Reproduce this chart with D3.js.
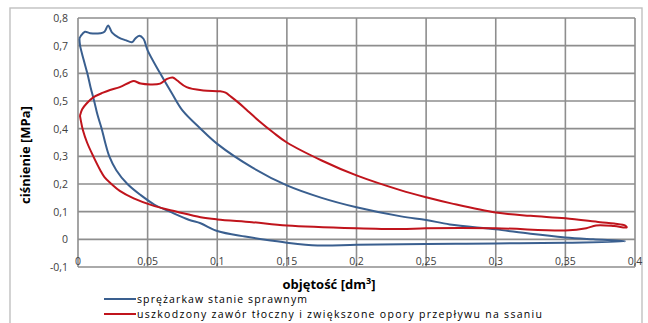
<!DOCTYPE html>
<html lang="pl">
<head>
<meta charset="UTF-8">
<title>Wykres p-V</title>
<script src="https://d3js.org/d3.v7.min.js"></script>
<style>
  body { margin: 0; background: #fff; }
  svg { display: block; font-family: "Open Sans", sans-serif; }
  .tick-label { font-size: 10.5px; fill: #404040; }
  .axis-title { font-size: 13px; font-weight: bold; fill: #000; }
  .legend-text { font-size: 10.5px; fill: #000; }
</style>
</head>
<body>
<svg width="648" height="323"></svg>
<script>
// volume [dm3] and pressure [MPa]
const healthyV = [0.001, 0.0015, 0.004, 0.0067, 0.009, 0.0116, 0.014, 0.017, 0.0195, 0.0225, 0.0275, 0.0355, 0.045, 0.055, 0.066, 0.080, 0.088, 0.100, 0.120, 0.140, 0.150, 0.172, 0.200, 0.250, 0.300, 0.350, 0.393,
  0.370, 0.350, 0.325, 0.300, 0.267, 0.250, 0.232, 0.200, 0.175, 0.150, 0.125, 0.100, 0.088, 0.075, 0.0675, 0.059, 0.050, 0.047, 0.044, 0.041, 0.039, 0.034, 0.029, 0.0245, 0.0216, 0.019, 0.016, 0.0087, 0.005, 0.002, 0.001];
const healthyP = [0.726, 0.700, 0.650, 0.600, 0.550, 0.500, 0.450, 0.400, 0.350, 0.300, 0.250, 0.200, 0.160, 0.125, 0.100, 0.070, 0.058, 0.030, 0.010, -0.005, -0.012, -0.022, -0.020, -0.017, -0.015, -0.012, -0.007,
  0.000, 0.007, 0.020, 0.036, 0.054, 0.070, 0.083, 0.116, 0.150, 0.195, 0.260, 0.345, 0.400, 0.466, 0.527, 0.600, 0.683, 0.725, 0.736, 0.725, 0.713, 0.720, 0.730, 0.747, 0.773, 0.750, 0.745, 0.745, 0.750, 0.735, 0.726];

const faultyV = [0.0014, 0.003, 0.006, 0.011, 0.018, 0.023, 0.030, 0.037, 0.040, 0.045, 0.052, 0.059, 0.064, 0.068, 0.071, 0.078, 0.090, 0.102, 0.106, 0.110, 0.115, 0.121, 0.130, 0.140, 0.150, 0.175, 0.200, 0.232, 0.250, 0.268, 0.300, 0.325, 0.350, 0.375, 0.385, 0.393, 0.394,
  0.385, 0.372, 0.365, 0.350, 0.300, 0.250, 0.232, 0.200, 0.150, 0.125, 0.100, 0.088, 0.071, 0.055, 0.040, 0.030, 0.024, 0.019, 0.016, 0.011, 0.0065, 0.0036, 0.002, 0.0014];
const faultyP = [0.447, 0.470, 0.490, 0.513, 0.530, 0.540, 0.550, 0.567, 0.572, 0.563, 0.560, 0.563, 0.580, 0.585, 0.575, 0.550, 0.538, 0.535, 0.530, 0.515, 0.495, 0.468, 0.428, 0.387, 0.350, 0.285, 0.231, 0.177, 0.152, 0.130, 0.097, 0.085, 0.076, 0.062, 0.057, 0.050, 0.043,
  0.048, 0.050, 0.040, 0.032, 0.040, 0.040, 0.037, 0.040, 0.050, 0.062, 0.072, 0.080, 0.100, 0.120, 0.148, 0.175, 0.200, 0.225, 0.250, 0.300, 0.350, 0.393, 0.430, 0.447];

const xTicks = [0, 0.05, 0.1, 0.15, 0.2, 0.25, 0.3, 0.35, 0.4];
const yTicks = [-0.1, 0, 0.1, 0.2, 0.3, 0.4, 0.5, 0.6, 0.7, 0.8];
const seriesNames = ["sprężarkaw stanie sprawnym", "uszkodzony zawór tłoczny i zwiększone opory przepływu na ssaniu"];
const seriesColors = ["#3a5f8f", "#c0141c"];

const svg = d3.select("svg");
const fmt = d => String(d).replace(".", ",");

const x = d3.scaleLinear().domain([0, 0.4]).range([78, 635]);
const y = d3.scaleLinear().domain([-0.1, 0.8]).range([267, 18]);

// outer chart frame
svg.append("rect")
  .attr("x", 10).attr("y", 8)
  .attr("width", 632).attr("height", 330)
  .attr("fill", "none")
  .attr("stroke", "#c0c0c0")
  .attr("stroke-width", 1.4);

// grid
const grid = svg.append("g")
  .attr("stroke", "#8e8e8e")
  .attr("stroke-width", 1.6);

grid.selectAll(".hgrid")
  .data(yTicks).join("line")
  .attr("class", "hgrid")
  .attr("x1", x(0)).attr("x2", x(0.4))
  .attr("y1", d => y(d)).attr("y2", d => y(d));

grid.selectAll(".vgrid")
  .data(xTicks).join("line")
  .attr("class", "vgrid")
  .attr("x1", d => x(d)).attr("x2", d => x(d))
  .attr("y1", y(0.8)).attr("y2", y(-0.1));

// tick labels
svg.append("g").selectAll("text")
  .data(yTicks).join("text")
  .attr("class", "tick-label")
  .attr("x", 68).attr("y", d => y(d) + 4)
  .attr("text-anchor", "end")
  .text(fmt);

svg.append("g").selectAll("text")
  .data(xTicks).join("text")
  .attr("class", "tick-label")
  .attr("x", d => x(d)).attr("y", y(0) + 26)
  .attr("text-anchor", "middle")
  .text(fmt);

// titles
svg.append("text")
  .attr("class", "axis-title")
  .attr("transform", "translate(30,155) rotate(-90)")
  .attr("text-anchor", "middle")
  .text("ciśnienie [MPa]");

svg.append("text")
  .attr("class", "axis-title")
  .attr("x", 329).attr("y", 289)
  .attr("text-anchor", "middle")
  .html("objętość [dm<tspan dy='-5' font-size='9px'>3</tspan><tspan dy='5'>]</tspan>");

// curves
const line = d3.line()
  .x(d => x(d[0]))
  .y(d => y(d[1]))
  .curve(d3.curveCatmullRom);

const series = [
  d3.zip(healthyV, healthyP),
  d3.zip(faultyV, faultyP)
];

svg.append("g").selectAll("path")
  .data(series).join("path")
  .attr("d", line)
  .attr("fill", "none")
  .attr("stroke", (d, i) => seriesColors[i])
  .attr("stroke-width", 2)
  .attr("stroke-linejoin", "round");

// legend
const legendY = [299, 314];
const legendW = [170, 405];
const legend = svg.append("g").selectAll("g")
  .data(seriesNames).join("g");

legend.append("line")
  .attr("x1", 104).attr("x2", 136)
  .attr("y1", (d, i) => legendY[i]).attr("y2", (d, i) => legendY[i])
  .attr("stroke", (d, i) => seriesColors[i])
  .attr("stroke-width", 2);

legend.append("text")
  .attr("class", "legend-text")
  .attr("x", 137).attr("y", (d, i) => legendY[i] + 4)
  .attr("textLength", (d, i) => legendW[i])
  .attr("lengthAdjust", "spacing")
  .text(d => d);
</script>
</body>
</html>
